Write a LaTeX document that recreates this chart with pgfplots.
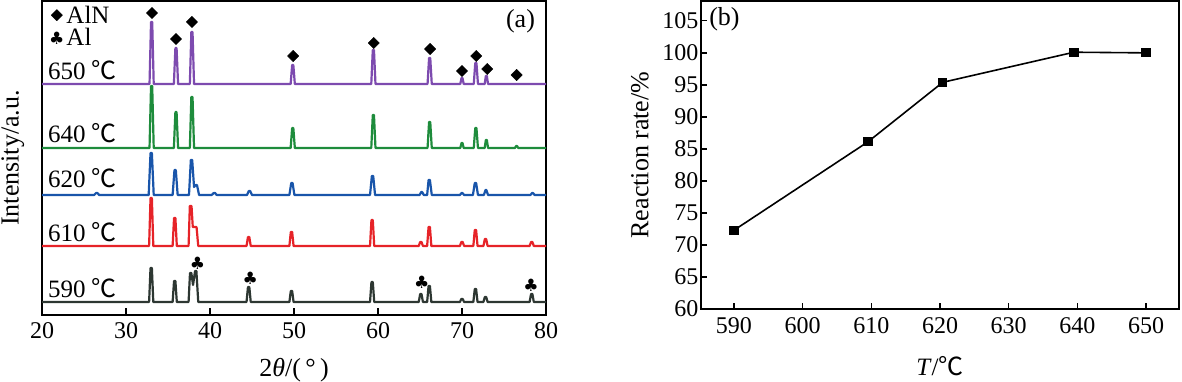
\documentclass[border=0pt]{standalone}
\usepackage{fontspec}
\setmainfont{Liberation Serif}
\newfontfamily\cjk{Noto Sans CJK SC}
\newfontfamily\sym{DejaVu Sans}
\usepackage{pgfplots}
\pgfplotsset{compat=1.18}
\definecolor{cpur}{RGB}{125,75,175}
\definecolor{cgre}{RGB}{30,140,60}
\definecolor{cblu}{RGB}{25,85,170}
\definecolor{cred}{RGB}{230,35,40}
\definecolor{cdrk}{RGB}{45,55,50}
\newcommand{\fs}{\fontsize{24}{28}\selectfont}
\newcommand{\fl}{\fontsize{26}{30}\selectfont}
\newcommand{\ft}{\fontsize{25}{29}\selectfont}
\begin{document}
\begin{tikzpicture}[x=1pt,y=1pt]
\useasboundingbox (0,0) rectangle (1182,382);
\begin{axis}[at={(42pt,67pt)}, anchor=south west, scale only axis,
  width=504pt, height=314pt, xmin=20, xmax=80, ymin=0, ymax=314,
  ytick=\empty, xtick={20,30,...,80}, tick align=inside,
  major tick length=7pt, axis line style={line width=1.3pt},
  every tick/.style={line width=1.3pt, black},
  xtick pos=bottom,
  /pgf/number format/assume math mode=true,
  ticklabel style={font=\fs},
  xticklabel style={yshift=-4pt},
  xlabel={2\textit{θ}/(\,°\,)}, ylabel={Intensity/a.u.},
  label style={font=\fl},
  xlabel style={at={(axis description cs:0.5,-0.175)}, anchor=center},
  ylabel style={at={(axis description cs:-0.058,0.5)}, anchor=center, inner sep=0pt},
  legend style={draw=none, fill=none, at={(axis description cs:0.012,0.995)}, anchor=north west,
    font=\ft, row sep=0pt, inner sep=1pt,
    legend cell align=left},
  every axis plot/.append style={line join=round},
]
\addplot[cpur, line width=2.2pt, forget plot] coordinates {
(20,231)(32.80,231)(32.98,293)(33.12,293)(33.30,231)
(35.70,231)(35.88,267)(36.02,267)(36.20,231)
(37.60,231)(37.78,283)(37.92,283)(38.10,231)
(49.60,231)(49.78,250)(49.92,250)(50.10,231)
(59.20,231)(59.38,265)(59.52,265)(59.70,231)
(65.90,231)(66.08,257)(66.22,257)(66.40,231)
(69.80,231)(69.94,237)(70.06,237)(70.20,231)
(71.40,231)(71.58,252)(71.72,252)(71.90,231)
(72.70,231)(72.84,239)(72.96,239)(73.10,231)
(80,231)};
\addplot[cgre, line width=2.2pt, forget plot] coordinates {
(20,167)(32.80,167)(32.98,229)(33.12,229)(33.30,167)
(35.70,167)(35.88,203)(36.02,203)(36.20,167)
(37.60,167)(37.78,218)(37.92,218)(38.10,167)
(49.60,167)(49.78,187)(49.92,187)(50.10,167)
(59.20,167)(59.38,200)(59.52,200)(59.70,167)
(65.90,167)(66.08,193)(66.22,193)(66.40,167)
(69.80,167)(69.94,172)(70.06,172)(70.20,167)
(71.40,167)(71.58,187)(71.72,187)(71.90,167)
(72.70,167)(72.84,175)(72.96,175)(73.10,167)
(76.30,167)(76.45,169)(76.55,169)(76.70,167)
(80,167)};
\addplot[cblu, line width=2.2pt, forget plot] coordinates {
(20,120)(26.2,120)(26.45,122)(26.6,122)(26.8,120)
(32.70,120)(32.92,162)(33.08,162)(33.30,120)
(35.55,120)(35.77,145)(35.93,145)(36.15,120)
(37.50,120)(37.72,155)(37.88,155)(38.10,128)(38.30,130)(38.45,130)(38.70,120)
(40.2,120)(40.45,122)(40.6,122)(40.8,120)
(44.40,120)(44.62,124)(44.78,124)(45.00,120)
(49.45,120)(49.67,132)(49.83,132)(50.05,120)
(59.05,120)(59.27,139)(59.43,139)(59.65,120)
(64.95,120)(65.15,123)(65.25,123)(65.45,120)
(65.85,120)(66.02,135)(66.18,135)(66.40,120)
(69.75,120)(69.95,122)(70.05,122)(70.25,120)
(71.30,120)(71.52,132)(71.68,132)(71.90,120)
(72.60,120)(72.80,125)(72.90,125)(73.10,120)
(78.15,120)(78.35,122)(78.45,122)(78.65,120)
(80,120)};
\addplot[cred, line width=2.2pt, forget plot] coordinates {
(20,69)(32.75,69)(32.92,117)(33.08,117)(33.25,69)
(35.55,69)(35.72,97)(35.88,97)(36.05,69)
(37.45,69)(37.60,109)(37.80,109)(37.95,88)(38.40,88)(38.60,69)
(44.35,69)(44.52,78)(44.68,78)(44.85,69)
(49.45,69)(49.62,83)(49.78,83)(49.95,69)
(59.05,69)(59.22,95)(59.38,95)(59.55,69)
(64.85,69)(65.02,73)(65.18,73)(65.35,69)
(65.85,69)(66.02,88)(66.18,88)(66.35,69)
(69.75,69)(69.92,73)(70.08,73)(70.25,69)
(71.35,69)(71.52,85)(71.68,85)(71.85,69)
(72.55,69)(72.72,76)(72.88,76)(73.05,69)
(78.05,69)(78.22,73)(78.38,73)(78.55,69)
(80,69)};
\addplot[cdrk, line width=2.2pt, forget plot] coordinates {
(20,13)(32.75,13)(32.92,47)(33.08,47)(33.25,13)
(35.55,13)(35.72,34)(35.88,34)(36.05,13)
(37.45,13)(37.62,42)(37.78,42)(37.98,30)(38.22,44)(38.38,44)(38.60,13)
(44.35,13)(44.52,28)(44.68,28)(44.85,13)
(49.45,13)(49.62,24)(49.78,24)(49.95,13)
(59.05,13)(59.22,33)(59.38,33)(59.55,13)
(64.85,13)(65.02,21)(65.18,21)(65.35,13)
(65.85,13)(66.02,29)(66.18,29)(66.35,13)
(69.75,13)(69.92,16)(70.08,16)(70.25,13)
(71.35,13)(71.52,26)(71.68,26)(71.85,13)
(72.55,13)(72.72,18)(72.88,18)(73.05,13)
(78.05,13)(78.22,21)(78.38,21)(78.55,13)
(80,13)};
\addplot[only marks, mark=square*, mark size=4pt, mark options={rotate=45, fill=black, draw=black}] coordinates {
(33.1,302)(35.95,276)(37.85,293)(49.9,259)(59.5,272)(66.2,266)(70.0,244)(71.7,259)(73.0,246)(76.5,240)};
\addlegendentry{AlN}
\addplot[only marks, mark=text, text mark={\sym\fontsize{17}{17}\selectfont ♣}, mark options={black}] coordinates {
(38.5,52)(44.8,37)(65.2,33)(78.2,30)};
\addlegendentry{Al}
\node[anchor=base west, font=\ft] at (axis cs:20.3,235) {650 {\cjk ℃}};
\node[anchor=base west, font=\ft] at (axis cs:20.3,172) {640 {\cjk ℃}};
\node[anchor=base west, font=\ft] at (axis cs:20.3,127) {620 {\cjk ℃}};
\node[anchor=base west, font=\ft] at (axis cs:20.3,73) {610 {\cjk ℃}};
\node[anchor=base west, font=\ft] at (axis cs:20.3,17) {590 {\cjk ℃}};
\node[anchor=north east, font=\fl] at (axis description cs:0.985,0.985) {(a)};
\end{axis}
\begin{axis}[at={(701pt,73pt)}, anchor=south west, scale only axis,
  width=478pt, height=308pt, xmin=585.2, xmax=654.8, ymin=60, ymax=108.1,
  xtick={590,600,...,650}, ytick={60,65,...,105}, tick align=inside,
  major tick length=6pt, axis line style={line width=1.3pt},
  every tick/.style={line width=1.3pt, black},
  xtick pos=bottom, ytick pos=left,
  /pgf/number format/assume math mode=true,
  ticklabel style={font=\fs},
  xticklabel style={yshift=-5pt},
  yticklabel style={xshift=1pt},
  xlabel={\textit{T}/{\cjk ℃}}, ylabel={Reaction rate/\%},
  label style={font=\fl},
  xlabel style={at={(axis description cs:0.5,-0.185)}, anchor=center, font=\ft},
  ylabel style={at={(axis description cs:-0.128,0.5)}, anchor=center},
]
\addplot[black, line width=1.6pt, mark=square*, mark size=3.8pt] coordinates {
(590,72.3)(609.5,86.1)(620.4,95.4)(639.5,100.1)(650,100.0)};
\node[anchor=north west, font=\fl] at (axis description cs:0.01,0.99) {(b)};
\end{axis}
\end{tikzpicture}
\end{document}
